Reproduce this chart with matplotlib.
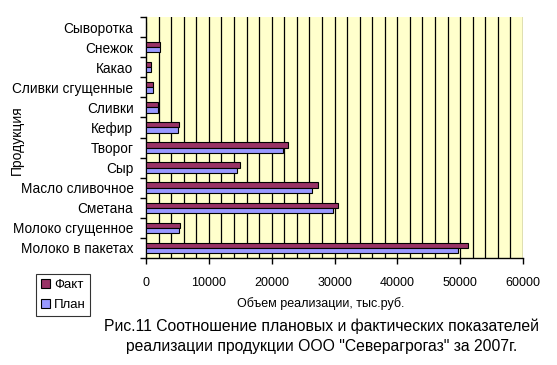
import matplotlib.pyplot as plt
import numpy as np

# categories bottom -> top
products = ['Молоко в пакетах', 'Молоко сгущенное', 'Сметана', 'Масло сливочное',
            'Сыр', 'Творог', 'Кефир', 'Сливки', 'Сливки сгущенные', 'Какао',
            'Снежок', 'Сыворотка']
fact = [51200, 5350, 30500, 27450, 14900, 22550, 5300, 1950, 1050, 750, 2200, 0]
plan = [49700, 5200, 29700, 26350, 14450, 21750, 5150, 1950, 1050, 750, 2200, 0]

plt.rcParams['font.family'] = ['Liberation Sans', 'DejaVu Sans']

fig = plt.figure(figsize=(5.57, 3.65), dpi=100)
ax = fig.add_axes([146 / 557, 1 - 258 / 365, 377 / 557, 241 / 365])
ax.set_facecolor('#FFFFCC')

y = np.arange(len(products))
h = 0.26
b_fact = ax.barh(y + h / 2, fact, height=h, color='#993366', edgecolor='black', linewidth=0.8, label='Факт', zorder=3)
b_plan = ax.barh(y - h / 2, plan, height=h, color='#9999FF', edgecolor='black', linewidth=0.8, label='План', zorder=3)

ax.set_xlim(0, 60000)
ax.set_ylim(-0.5, len(products) - 0.5)
for gx in np.arange(2000, 60001, 2000):
    ax.axvline(gx, color='black', linewidth=0.9, zorder=1)

ax.set_xticks(np.arange(0, 60001, 10000))
ax.set_xticklabels([str(v) for v in range(0, 60001, 10000)], fontsize=9)
ax.set_yticks(y)
ax.set_yticklabels(products, fontsize=9.8)
ax.tick_params(axis='y', length=0, pad=9)
ax.set_yticks(np.arange(-0.5, len(products), 1), minor=True)
ax.tick_params(axis='y', which='minor', length=4, width=1, color='black')
ax.tick_params(axis='x', length=4, width=1, pad=10)

ax.spines['top'].set_visible(False)
ax.spines['right'].set_visible(False)
ax.spines['left'].set_linewidth(1)
ax.spines['bottom'].set_linewidth(1)

fig.text(17 / 557, 1 - 140 / 365, 'Продукция', rotation=90, ha='center', va='center', fontsize=10)
fig.text(321 / 557, 1 - 304 / 365, 'Объем реализации, тыс.руб.', ha='center', va='center', fontsize=9)

leg = ax.legend(handles=[b_fact, b_plan], loc='upper left', bbox_to_anchor=(36 / 557, 1 - 274 / 365),
                bbox_transform=fig.transFigure, fontsize=9.5, frameon=True, fancybox=False,
                handlelength=0.7, handleheight=0.7, handletextpad=0.3, borderpad=0.35,
                labelspacing=0.6, borderaxespad=0)
leg.get_frame().set_edgecolor('black')
leg.get_frame().set_linewidth(0.8)

fig.text(322 / 557, 1 - 326 / 365, 'Рис.11 Соотношение плановых и фактических показателей',
         ha='center', va='center', fontsize=11.3)
fig.text(322 / 557, 1 - 346 / 365, 'реализации продукции ООО "Северагрогаз" за 2007г.',
         ha='center', va='center', fontsize=11.3)

fig.savefig('out.png', dpi=100)
